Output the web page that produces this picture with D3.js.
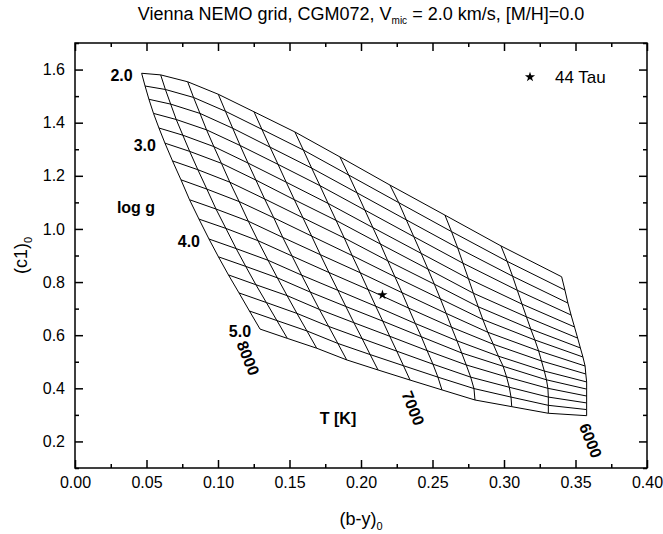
<!DOCTYPE html>
<html>
<head>
<meta charset="utf-8">
<script src="https://cdn.jsdelivr.net/npm/d3@7/dist/d3.min.js"></script>
<style>
  body { margin: 0; background: #fff; }
  text { font-family: Arial, "Liberation Sans", sans-serif; fill: #000; }
</style>
</head>
<body>
<div id="chart"></div>
<script>
(function() {
  // model grid: columns are Teff, rows are log g
  var teffs = [8000, 7800, 7600, 7400, 7200, 7000, 6800, 6600, 6400, 6200, 6000];
  var loggs = [2.0, 2.2, 2.4, 2.6, 2.8, 3.0, 3.2, 3.4, 3.6, 3.8, 4.0, 4.2, 4.4, 4.6, 4.8, 5.0];

  // (b-y)0 for each log g row, one value per Teff
  var byRows = [
    [0.0466, 0.0599, 0.0788, 0.1002, 0.1252, 0.1538, 0.1853, 0.2203, 0.2587, 0.2979, 0.3403],
    [0.0490, 0.0632, 0.0829, 0.1052, 0.1307, 0.1597, 0.1914, 0.2264, 0.2633, 0.3022, 0.3426],
    [0.0517, 0.0669, 0.0874, 0.1103, 0.1364, 0.1655, 0.1972, 0.2317, 0.2676, 0.3060, 0.3447],
    [0.0549, 0.0708, 0.0920, 0.1155, 0.1420, 0.1713, 0.2027, 0.2369, 0.2713, 0.3093, 0.3469],
    [0.0587, 0.0754, 0.0971, 0.1210, 0.1477, 0.1770, 0.2083, 0.2421, 0.2751, 0.3126, 0.3493],
    [0.0629, 0.0802, 0.1024, 0.1265, 0.1534, 0.1826, 0.2136, 0.2468, 0.2786, 0.3157, 0.3515],
    [0.0682, 0.0859, 0.1083, 0.1326, 0.1594, 0.1883, 0.2187, 0.2513, 0.2820, 0.3187, 0.3534],
    [0.0741, 0.0922, 0.1148, 0.1390, 0.1655, 0.1938, 0.2237, 0.2555, 0.2852, 0.3216, 0.3552],
    [0.0801, 0.0986, 0.1212, 0.1453, 0.1716, 0.1995, 0.2287, 0.2596, 0.2887, 0.3242, 0.3567],
    [0.0867, 0.1055, 0.1279, 0.1518, 0.1776, 0.2049, 0.2333, 0.2633, 0.2925, 0.3262, 0.3572],
    [0.0937, 0.1127, 0.1350, 0.1585, 0.1838, 0.2103, 0.2380, 0.2671, 0.2961, 0.3282, 0.3578],
    [0.1003, 0.1194, 0.1415, 0.1646, 0.1894, 0.2152, 0.2422, 0.2704, 0.2994, 0.3297, 0.3578],
    [0.1073, 0.1265, 0.1483, 0.1709, 0.1950, 0.2201, 0.2462, 0.2736, 0.3018, 0.3307, 0.3578],
    [0.1147, 0.1338, 0.1552, 0.1774, 0.2008, 0.2250, 0.2503, 0.2767, 0.3037, 0.3310, 0.3578],
    [0.1220, 0.1412, 0.1622, 0.1838, 0.2064, 0.2297, 0.2538, 0.2790, 0.3049, 0.3310, 0.3578],
    [0.1294, 0.1485, 0.1690, 0.1900, 0.2119, 0.2343, 0.2566, 0.2797, 0.3054, 0.3310, 0.3578]
  ];

  // (c1)0 for each log g row, one value per Teff
  var c1Rows = [
    [1.586, 1.580, 1.554, 1.507, 1.441, 1.365, 1.271, 1.165, 1.052, 0.936, 0.820],
    [1.538, 1.525, 1.495, 1.443, 1.375, 1.297, 1.203, 1.099, 0.990, 0.878, 0.770],
    [1.488, 1.470, 1.435, 1.379, 1.308, 1.229, 1.136, 1.034, 0.929, 0.822, 0.721],
    [1.435, 1.412, 1.373, 1.314, 1.243, 1.163, 1.071, 0.971, 0.871, 0.769, 0.676],
    [1.380, 1.353, 1.310, 1.248, 1.176, 1.096, 1.005, 0.908, 0.813, 0.717, 0.631],
    [1.323, 1.292, 1.247, 1.184, 1.110, 1.032, 0.943, 0.849, 0.758, 0.669, 0.589],
    [1.256, 1.223, 1.176, 1.113, 1.042, 0.966, 0.880, 0.792, 0.707, 0.623, 0.552],
    [1.185, 1.150, 1.103, 1.042, 0.973, 0.900, 0.820, 0.737, 0.659, 0.582, 0.518],
    [1.110, 1.075, 1.029, 0.968, 0.903, 0.835, 0.760, 0.682, 0.611, 0.541, 0.484],
    [1.037, 1.002, 0.956, 0.898, 0.836, 0.772, 0.702, 0.630, 0.566, 0.503, 0.454],
    [0.962, 0.926, 0.882, 0.826, 0.769, 0.709, 0.644, 0.579, 0.521, 0.465, 0.424],
    [0.895, 0.859, 0.816, 0.762, 0.708, 0.653, 0.594, 0.533, 0.483, 0.432, 0.397],
    [0.827, 0.790, 0.749, 0.697, 0.647, 0.596, 0.542, 0.488, 0.443, 0.400, 0.371],
    [0.759, 0.723, 0.682, 0.633, 0.587, 0.540, 0.491, 0.442, 0.404, 0.367, 0.345],
    [0.691, 0.655, 0.616, 0.569, 0.527, 0.485, 0.442, 0.399, 0.367, 0.336, 0.320],
    [0.623, 0.588, 0.551, 0.507, 0.469, 0.431, 0.394, 0.356, 0.331, 0.306, 0.297]
  ];

  var starBy = 0.215, starC1 = 0.752, starName = "44 Tau";

  var xMajor = [0, 0.05, 0.10, 0.15, 0.20, 0.25, 0.30, 0.35, 0.40];
  var xMinor = [0.025, 0.075, 0.125, 0.175, 0.225, 0.275, 0.325, 0.375];
  var yMajor = [0.2, 0.4, 0.6, 0.8, 1.0, 1.2, 1.4, 1.6];
  var yMinor = [0.1, 0.3, 0.5, 0.7, 0.9, 1.1, 1.3, 1.5, 1.7];

  var loggLabelRows = [0, 5, 10, 15];
  var teffLabelCols = [0, 5, 10];

  var margin = { top: 43, left: 75, right: 16, bottom: 66 },
    width = 663 - margin.left - margin.right,
    height = 534 - margin.top - margin.bottom;

  var xPositionScale = d3.scaleLinear().domain([0, 0.4]).range([0, width]);
  var yPositionScale = d3.scaleLinear().domain([0.1, 1.7]).range([height, 0]);

  var root = d3.select("#chart").append("svg")
    .attr("width", 663)
    .attr("height", 534);

  var svg = root.append("g")
    .attr("transform", "translate(" + margin.left + "," + margin.top + ")");

  var line = d3.line()
    .x(function(d) { return xPositionScale(d[0]); })
    .y(function(d) { return yPositionScale(d[1]); });

  // log g lines
  var rows = byRows.map(function(r, i) { return d3.zip(r, c1Rows[i]); });
  // Teff lines
  var cols = teffs.map(function(t, j) {
    return loggs.map(function(g, i) { return [byRows[i][j], c1Rows[i][j]]; });
  });

  svg.selectAll(".grid-line")
    .data(rows.concat(cols))
    .enter().append("path")
      .attr("class", "grid-line")
      .attr("d", line)
      .attr("fill", "none")
      .attr("stroke", "#000")
      .attr("stroke-width", 1)
      .attr("stroke-linejoin", "round");

  // star
  var star = d3.symbol().type(d3.symbolStar).size(32);
  svg.append("path")
    .attr("d", star)
    .attr("transform", "translate(" + xPositionScale(starBy) + "," + yPositionScale(starC1) + ")")
    .attr("fill", "#000");

  // legend
  svg.append("path")
    .attr("d", star)
    .attr("transform", "translate(" + (width - 117) + ",34)")
    .attr("fill", "#000");
  svg.append("text")
    .attr("x", width - 92)
    .attr("y", 34)
    .attr("dy", "0.35em")
    .style("font-size", "17px")
    .text(starName);

  // grid labels
  function label(txt, x, y, anchor, rot) {
    var t = svg.append("text")
      .attr("text-anchor", anchor)
      .attr("dy", "0.35em")
      .style("font-size", "16px")
      .style("font-weight", "bold")
      .text(txt);
    if (rot) {
      t.attr("transform", "translate(" + x + "," + y + ") rotate(" + rot + ")");
    } else {
      t.attr("x", x).attr("y", y);
    }
  }
  loggLabelRows.forEach(function(i) {
    label(loggs[i].toFixed(1), xPositionScale(byRows[i][0]) - 9, yPositionScale(c1Rows[i][0]) + 2, "end");
  });
  label("log g", 61, 164, "middle");
  label("T [K]", 263, 375, "middle");
  var teffShift = [[-12, 29], [3, 28], [4, 25]];
  teffLabelCols.forEach(function(j, k) {
    label(teffs[j],
      xPositionScale(byRows[15][j]) + teffShift[k][0],
      yPositionScale(c1Rows[15][j]) + teffShift[k][1],
      "middle", 68);
  });

  // frame
  svg.append("rect")
    .attr("width", width)
    .attr("height", height)
    .attr("fill", "none")
    .attr("stroke", "#000")
    .attr("stroke-width", 1.5);

  // axes, ticks pointing inward
  var xAxis = d3.axisBottom(xPositionScale).tickValues(xMajor)
    .tickSize(-8).tickPadding(9).tickFormat(d3.format(".2f"));
  svg.append("g").attr("class", "axis x-axis")
    .attr("transform", "translate(0," + height + ")")
    .call(xAxis);

  var yAxis = d3.axisLeft(yPositionScale).tickValues(yMajor)
    .tickSize(-8).tickPadding(10).tickFormat(d3.format(".1f"));
  svg.append("g").attr("class", "axis y-axis")
    .call(yAxis);

  svg.append("g").attr("transform", "translate(0," + height + ")")
    .call(d3.axisBottom(xPositionScale).tickValues(xMinor).tickSize(-4).tickFormat(""));
  svg.append("g")
    .call(d3.axisLeft(yPositionScale).tickValues(yMinor).tickSize(-4).tickFormat(""));
  svg.append("g")
    .call(d3.axisTop(xPositionScale).tickValues(xMajor).tickSize(-8).tickFormat(""));
  svg.append("g")
    .call(d3.axisTop(xPositionScale).tickValues(xMinor).tickSize(-4).tickFormat(""));
  svg.append("g").attr("transform", "translate(" + width + ",0)")
    .call(d3.axisRight(yPositionScale).tickValues(yMajor).tickSize(-8).tickFormat(""));
  svg.append("g").attr("transform", "translate(" + width + ",0)")
    .call(d3.axisRight(yPositionScale).tickValues(yMinor).tickSize(-4).tickFormat(""));

  svg.selectAll(".domain").remove();
  svg.selectAll(".tick line").attr("stroke", "#000").attr("stroke-width", 1.5);
  svg.selectAll(".tick text")
    .style("font-size", "16px")
    .style("font-family", "Arial, 'Liberation Sans', sans-serif");

  // title
  var title = root.append("text")
    .attr("x", margin.left + width / 2)
    .attr("y", 20)
    .attr("text-anchor", "middle")
    .style("font-size", "18px");
  title.append("tspan").text("Vienna NEMO grid, CGM072, V");
  title.append("tspan").attr("dy", 4).style("font-size", "10px").text("mic");
  title.append("tspan").attr("dy", -4).text(" = 2.0 km/s, [M/H]=0.0");

  // axis titles
  var xt = root.append("text")
    .attr("x", margin.left + width / 2)
    .attr("y", 525)
    .attr("text-anchor", "middle")
    .style("font-size", "18px");
  xt.append("tspan").text("(b-y)");
  xt.append("tspan").attr("dy", 5).style("font-size", "11px").text("0");

  var yt = root.append("text")
    .attr("transform", "translate(27," + (margin.top + height / 2) + ") rotate(-90)")
    .attr("text-anchor", "middle")
    .style("font-size", "18px");
  yt.append("tspan").text("(c1)");
  yt.append("tspan").attr("dy", 5).style("font-size", "11px").text("0");
})();
</script>
</body>
</html>
